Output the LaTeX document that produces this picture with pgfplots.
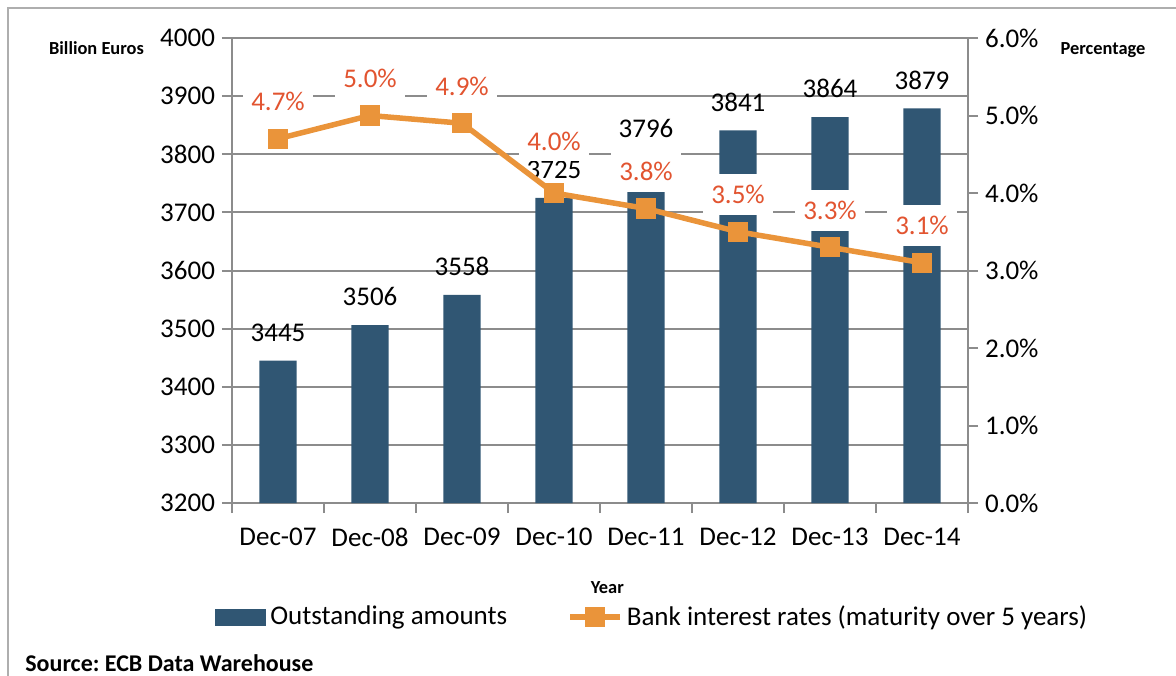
\documentclass[border=0pt]{standalone}
\usepackage{fontspec}
\setmainfont{Carlito}
\usepackage{pgfplots}
\pgfplotsset{compat=1.18}
\definecolor{barblue}{RGB}{48,86,115}
\definecolor{lineorange}{RGB}{234,148,58}
\definecolor{labelred}{RGB}{226,84,48}
\definecolor{gridgray}{RGB}{140,140,140}

\pgfplotsset{
  base/.style={
    at={(0,0)}, anchor=south west,
    scale only axis, width=368pt, height=232.5pt,
    xmin=-0.5, xmax=7.5,
    font=\fontsize{13.5}{16}\selectfont,
    /pgf/number format/assume math mode=true,
    tick align=outside,
    major tick length=5pt, minor tick length=5pt,
    axis line style={gridgray, line width=1pt},
    tick style={gridgray, line width=1pt},
  },
}

\begin{document}
\frenchspacing
\begin{tikzpicture}
\useasboundingbox (-116pt,-86pt) rectangle (472pt,251.5pt);
\draw[gridgray!70, line width=1pt] (-112pt,-95pt) -- (-112pt,247.5pt) -- (480pt,247.5pt);

% outstanding amounts, left axis
\begin{axis}[base,
  ymin=3200, ymax=4000, ytick={3200,3300,...,4000},
  axis y line*=left, axis x line*=bottom,
  ymajorgrids, grid style={gridgray, line width=1pt},
  xtick={0,...,7},
  xticklabels={Dec-07,Dec-08,Dec-09,Dec-10,Dec-11,Dec-12,Dec-13,Dec-14},
  major x tick style={draw=none},
  minor xtick={-0.5,0.5,...,7.5},
  xticklabel style={yshift=-4pt},
  yticklabel style={/pgf/number format/set thousands separator={}},
  xlabel={\bfseries\fontsize{9.2}{11}\selectfont Year},
  xlabel style={at={(axis description cs:0.51,-0.183)}, anchor=center},
  ybar, bar width=18.5pt,
  nodes near coords,
  nodes near coords style={black, yshift=6pt,
    /pgf/number format/set thousands separator={}},
  clip=false,
]
\addplot[fill=barblue, draw=none] coordinates {
  (0,3445) (1,3506) (2,3558) (3,3725) (4,3796) (5,3841) (6,3864) (7,3879)
};
\node[font=\bfseries\fontsize{9.2}{11}\selectfont, xshift=-67.75pt, yshift=-5pt]
  at (rel axis cs:0,1) {Billion Euros};
\node[font=\bfseries\fontsize{12}{14}\selectfont, anchor=west, inner sep=0pt,
  xshift=-103.5pt, yshift=-80pt]
  at (rel axis cs:0,0) {Source: ECB Data Warehouse};
\end{axis}

% bank interest rates, right axis
\begin{axis}[base,
  ymin=0, ymax=6, ytick={0,...,6},
  yticklabels={0.0\%,1.0\%,2.0\%,3.0\%,4.0\%,5.0\%,6.0\%},
  axis y line*=right, axis x line=none,
  clip=false,
  legend columns=2,
  legend style={at={(axis description cs:-0.023,-0.245)}, anchor=west,
    draw=none, fill=none, inner sep=0pt,
    font=\fontsize{13.5}{16}\selectfont,
    /tikz/every even column/.append style={column sep=28pt}},
]
\addlegendimage{legend image code/.code={\fill[barblue] (0pt,-4pt) rectangle (25pt,4pt);}}
\addlegendentry{Outstanding amounts}
\addplot[lineorange, line width=2.75pt,
  mark=square*, mark size=4.8pt, mark options={solid, line width=0.5pt, fill=lineorange},
  legend image code/.code={\draw[mark repeat=2, mark phase=2]
    plot coordinates {(0pt,0pt) (12.5pt,0pt) (25pt,0pt)};},
  point meta=explicit,
  visualization depends on={\thisrow{dy} \as \dy},
  nodes near coords={\pgfmathprintnumber[fixed,precision=1,zerofill]{\pgfplotspointmeta}\%},
  nodes near coords style={labelred, fill=white, inner xsep=4pt, inner ysep=5.5pt,
    anchor=center, yshift=\dy pt},
] table[x=x, y=y, meta=y] {
x y   dy
0 4.7 18.5
1 5.0 18.5
2 4.9 18.5
3 4.0 26
4 3.8 18.5
5 3.5 18.5
6 3.3 18.5
7 3.1 18.5
};
\addlegendentry{Bank interest rates (maturity over 5 years)}
\node[font=\bfseries\fontsize{9.2}{11}\selectfont, xshift=67.5pt, yshift=-6pt]
  at (rel axis cs:1,1) {Percentage};
\end{axis}
\end{tikzpicture}
\end{document}
